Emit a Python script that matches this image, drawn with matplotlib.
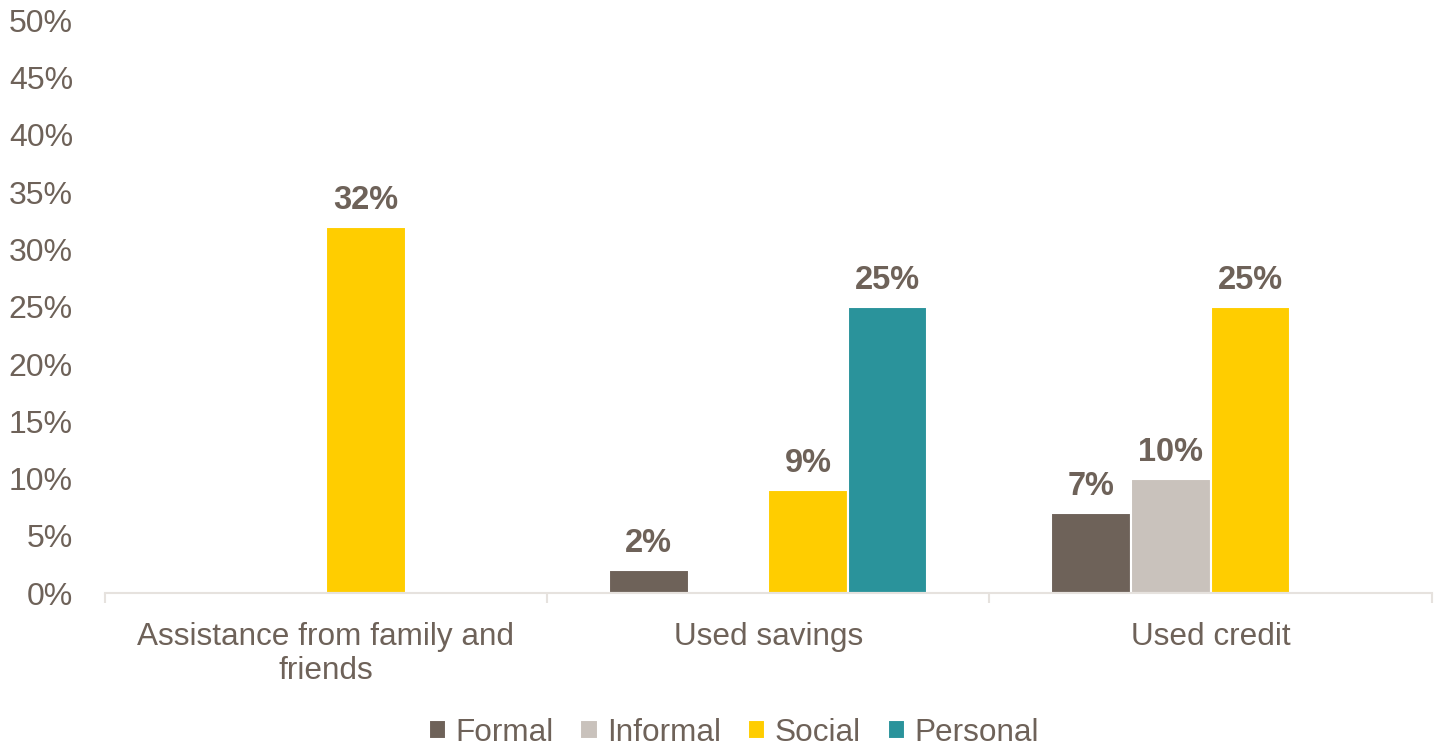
import numpy as np
import matplotlib.pyplot as plt

plt.rcParams['font.family'] = ['Liberation Sans', 'DejaVu Sans']

categories = ['Assistance from family and\nfriends', 'Used savings', 'Used credit']
series = ['Formal', 'Informal', 'Social', 'Personal']
formal = [None, 2, 7]
informal = [None, None, 10]
social = [32, 9, 25]
personal = [None, 25, None]
values = [formal, informal, social, personal]
colors = ['#6E6259', '#C9C2BC', '#FFCD00', '#2A939B']

text_col = '#6E6259'
fs = 23
fig = plt.figure(figsize=(14.36, 7.51), dpi=100)
ax = fig.add_axes([0.073, 0.210, 0.924, 0.763])

x = np.arange(len(categories))
w = 0.18
for i, (name, vals) in enumerate(zip(series, values)):
    off = (i - 1.5) * w
    xs = [x[j] + off for j, v in enumerate(vals) if v is not None]
    ys = [v for v in vals if v is not None]
    bars = ax.bar(xs, ys, width=w, color=colors[i], edgecolor='white',
                  linewidth=1.5, label=name, zorder=2)
    for b, v in zip(bars, ys):
        ax.text(b.get_x() + b.get_width() / 2, v + 0.95, f'{v}%',
                ha='center', va='bottom', fontsize=fs + 0.5, fontweight='bold',
                color=text_col)

ax.set_xlim(-0.5, len(categories) - 0.5)
ax.set_ylim(0, 50)
ax.set_yticks(np.arange(0, 51, 5))
ax.set_yticklabels([f'{t}%' for t in range(0, 51, 5)])
ax.set_xticks(x)
ax.set_xticklabels(categories, linespacing=1.15)
ax.set_xticks(np.arange(-0.5, len(categories), 1), minor=True)
ax.tick_params(axis='x', which='major', length=0, pad=21, labelsize=fs - 0.3, labelcolor=text_col)
ax.tick_params(axis='x', which='minor', length=7, width=1.5, color='#E6E2DE')
ax.tick_params(axis='y', length=0, pad=23, labelsize=fs, labelcolor=text_col)
for s in ['top', 'right', 'left']:
    ax.spines[s].set_visible(False)
ax.spines['bottom'].set_color('#E6E2DE')
ax.spines['bottom'].set_linewidth(1.5)

handles, labels = ax.get_legend_handles_labels()
fig.legend(handles, labels, loc='center', bbox_to_anchor=(0.511, 0.024), ncol=4,
           frameon=False, fontsize=fs - 0.3, labelcolor=text_col, handlelength=0.55,
           handleheight=0.55, handletextpad=0.3, columnspacing=0.85,
           borderpad=0.1)

fig.savefig('out.png', dpi=100)
